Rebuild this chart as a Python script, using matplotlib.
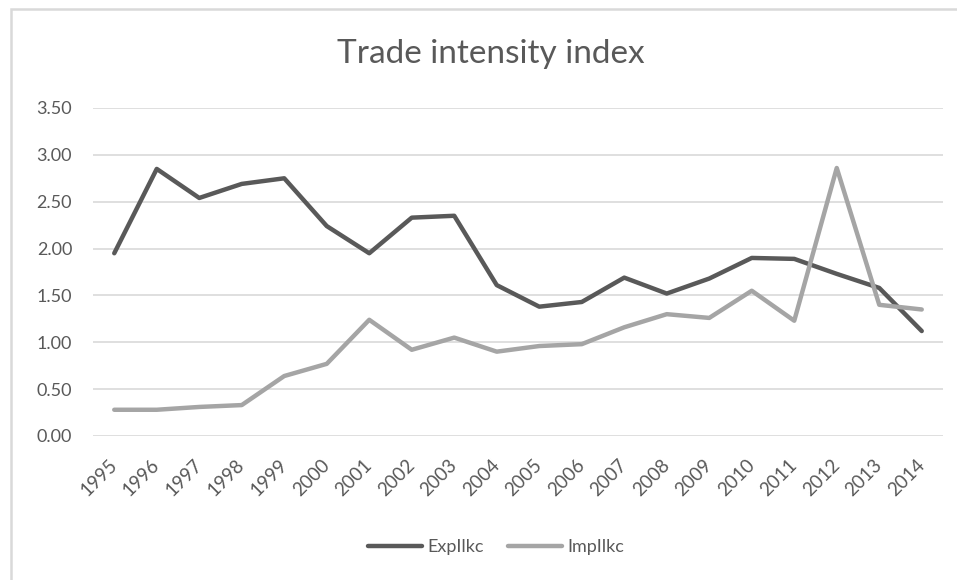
import matplotlib
matplotlib.use('Agg')
import matplotlib.pyplot as plt
from matplotlib.patches import Rectangle

# ── Data ──────────────────────────────────────────────────────────────────────
years = ["1995", "1996", "1997", "1998", "1999", "2000", "2001", "2002", "2003", "2004",
         "2005", "2006", "2007", "2008", "2009", "2010", "2011", "2012", "2013", "2014"]
exp_iikc = [1.95, 2.85, 2.54, 2.69, 2.75, 2.24, 1.95, 2.33, 2.35, 1.61,
            1.38, 1.43, 1.69, 1.52, 1.68, 1.90, 1.89, 1.73, 1.58, 1.12]
imp_iikc = [0.28, 0.28, 0.31, 0.33, 0.64, 0.77, 1.24, 0.92, 1.05, 0.90,
            0.96, 0.98, 1.16, 1.30, 1.26, 1.55, 1.23, 2.86, 1.40, 1.35]
y_ticks = [0.0, 0.5, 1.0, 1.5, 2.0, 2.5, 3.0, 3.5]

TEXT = '#595959'
plt.rcParams['font.family'] = ['Lato', 'DejaVu Sans']

W, H = 957, 580
fig = plt.figure(figsize=(W / 100, H / 100), dpi=100)
ax = fig.add_axes([93 / W, 1 - 436 / H, (943 - 93) / W, (436 - 108) / H])

x = list(range(len(years)))
ax.plot(x, exp_iikc, color='#595959', lw=3.2, solid_capstyle='round',
        solid_joinstyle='round', label='ExpIlkc', zorder=3)
ax.plot(x, imp_iikc, color='#A5A5A5', lw=3.2, solid_capstyle='round',
        solid_joinstyle='round', label='ImpIlkc', zorder=3)

ax.set_xlim(-0.5, len(years) - 0.5)
ax.set_ylim(0, 3.5)
ax.set_yticks(y_ticks)
ax.set_yticklabels([f"{v:.2f}" for v in y_ticks])
ax.set_xticks(x)
ax.set_xticklabels(years, rotation=45, ha='right', va='center',
                   rotation_mode='anchor')
ax.tick_params(axis='y', length=0, pad=15, labelsize=13, labelcolor=TEXT)
ax.tick_params(axis='x', length=0, pad=19, labelsize=13.5, labelcolor=TEXT)

ax.grid(axis='y', color='#D9D9D9', lw=1.2, zorder=0)
for s in ax.spines.values():
    s.set_visible(False)

fig.text(491 / W, 1 - 54 / H, "Trade intensity index", ha='center', va='center',
         fontsize=24, color=TEXT)

fig.legend(loc='center', bbox_to_anchor=(496 / W, 1 - 547 / H), ncol=2,
           frameon=False, fontsize=13, labelcolor=TEXT, handlelength=3.0,
           columnspacing=1.3, handletextpad=0.3)

# chart area border
fig.patches.append(Rectangle((11 / W, -0.05), 1.0, 1 - 9 / H + 0.05,
                             transform=fig.transFigure, fill=False,
                             edgecolor='#D9D9D9', lw=1.8))

fig.savefig('out.png', dpi=100)
